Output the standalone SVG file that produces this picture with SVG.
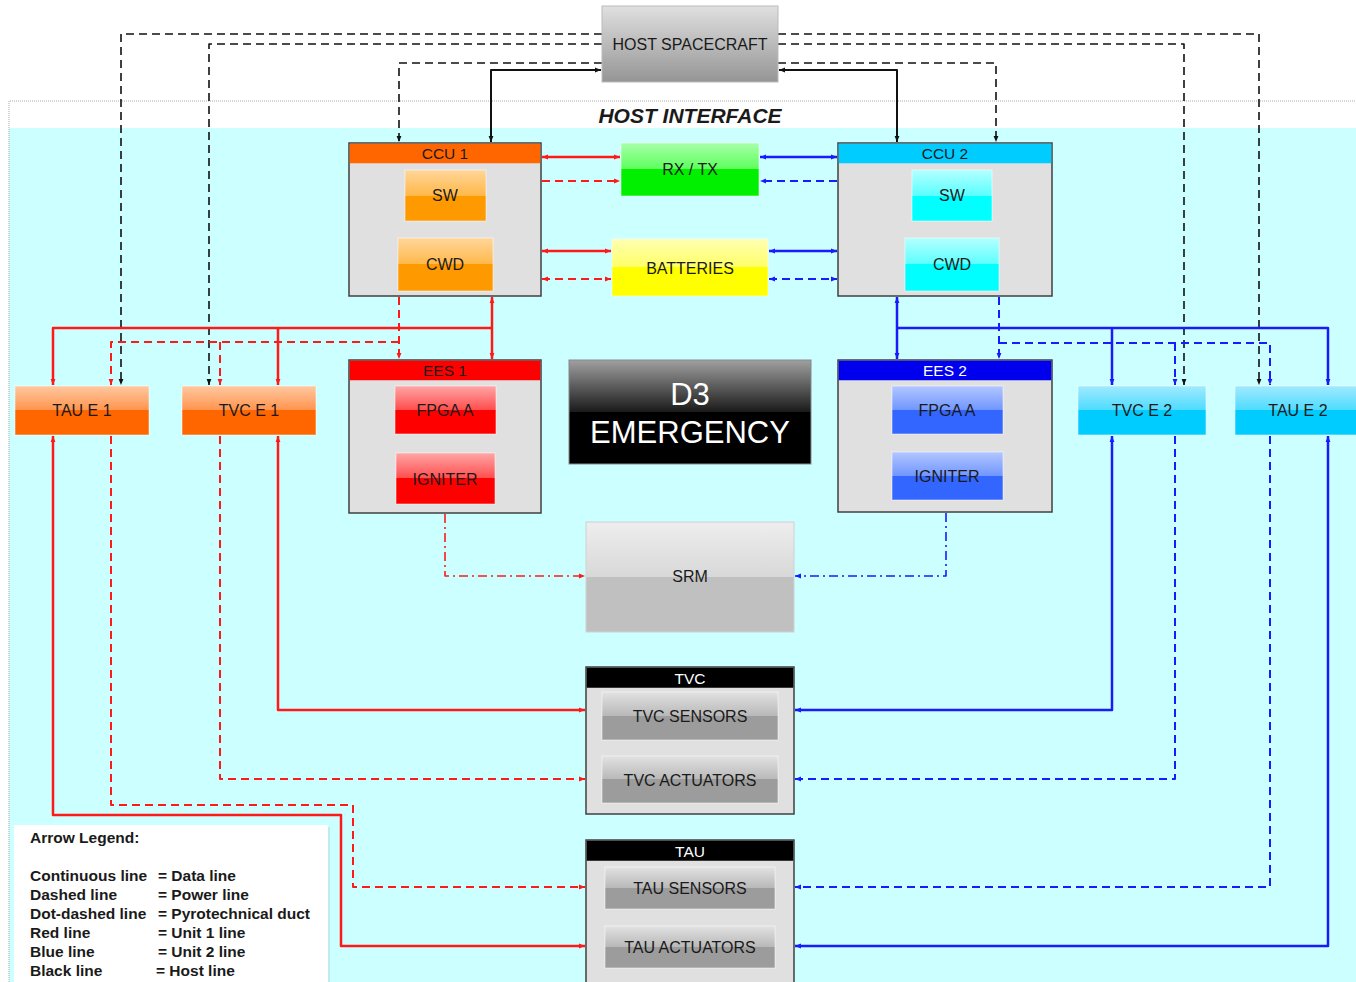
<svg xmlns="http://www.w3.org/2000/svg" width="1356" height="982" viewBox="0 0 1356 982">
<defs>
<linearGradient id="gOr" x1="0" y1="0" x2="0" y2="1"><stop offset="0" stop-color="#FFD69A"/><stop offset="0.5" stop-color="#FFB84A"/><stop offset="0.5" stop-color="#FF9900"/><stop offset="1" stop-color="#FF9900"/></linearGradient>
<linearGradient id="gOrE" x1="0" y1="0" x2="0" y2="1"><stop offset="0" stop-color="#FFC8A0"/><stop offset="0.5" stop-color="#FF934D"/><stop offset="0.5" stop-color="#FF6600"/><stop offset="1" stop-color="#FF6600"/></linearGradient>
<linearGradient id="gCy" x1="0" y1="0" x2="0" y2="1"><stop offset="0" stop-color="#B3FFFF"/><stop offset="0.5" stop-color="#5CFFFF"/><stop offset="0.5" stop-color="#00FFFF"/><stop offset="1" stop-color="#00FFFF"/></linearGradient>
<linearGradient id="gCyE" x1="0" y1="0" x2="0" y2="1"><stop offset="0" stop-color="#A0EAFF"/><stop offset="0.5" stop-color="#4DDBFF"/><stop offset="0.5" stop-color="#00CCFF"/><stop offset="1" stop-color="#00CCFF"/></linearGradient>
<linearGradient id="gGr" x1="0" y1="0" x2="0" y2="1"><stop offset="0" stop-color="#A8FFA8"/><stop offset="0.5" stop-color="#5CFF5C"/><stop offset="0.5" stop-color="#00F000"/><stop offset="1" stop-color="#00F000"/></linearGradient>
<linearGradient id="gYe" x1="0" y1="0" x2="0" y2="1"><stop offset="0" stop-color="#FFFFB3"/><stop offset="0.5" stop-color="#FFFF66"/><stop offset="0.5" stop-color="#FFFF00"/><stop offset="1" stop-color="#FFFF00"/></linearGradient>
<linearGradient id="gRe" x1="0" y1="0" x2="0" y2="1"><stop offset="0" stop-color="#FFA6A6"/><stop offset="0.5" stop-color="#FF4D4D"/><stop offset="0.5" stop-color="#FF0000"/><stop offset="1" stop-color="#FF0000"/></linearGradient>
<linearGradient id="gBl" x1="0" y1="0" x2="0" y2="1"><stop offset="0" stop-color="#B3C6FF"/><stop offset="0.5" stop-color="#7096FF"/><stop offset="0.5" stop-color="#3366FF"/><stop offset="1" stop-color="#3366FF"/></linearGradient>
<linearGradient id="gGy" x1="0" y1="0" x2="0" y2="1"><stop offset="0" stop-color="#E2E2E2"/><stop offset="0.5" stop-color="#B8B8B8"/><stop offset="0.5" stop-color="#9C9C9C"/><stop offset="1" stop-color="#9C9C9C"/></linearGradient>
<linearGradient id="gHost" x1="0" y1="0" x2="0" y2="1"><stop offset="0" stop-color="#E0E0E0"/><stop offset="1" stop-color="#959595"/></linearGradient>
<linearGradient id="gSrm" x1="0" y1="0" x2="0" y2="1"><stop offset="0" stop-color="#EEEEEE"/><stop offset="0.5" stop-color="#D8D8D8"/><stop offset="0.5" stop-color="#C0C0C0"/><stop offset="1" stop-color="#C0C0C0"/></linearGradient>
<linearGradient id="gD3" x1="0" y1="0" x2="0" y2="1"><stop offset="0" stop-color="#A0A0A0"/><stop offset="0.5" stop-color="#1A1A1A"/><stop offset="0.5" stop-color="#000000"/><stop offset="1" stop-color="#000000"/></linearGradient>
<marker id="aR" viewBox="0 0 10 10" refX="10" refY="5" markerWidth="6" markerHeight="6" markerUnits="userSpaceOnUse" orient="auto-start-reverse"><path d="M0,1 L10,5 L0,9 z" fill="#FF1A1A"/></marker>
<marker id="aB" viewBox="0 0 10 10" refX="10" refY="5" markerWidth="6" markerHeight="6" markerUnits="userSpaceOnUse" orient="auto-start-reverse"><path d="M0,1 L10,5 L0,9 z" fill="#1A1AFF"/></marker>
<marker id="aK" viewBox="0 0 10 10" refX="10" refY="5" markerWidth="6" markerHeight="6" markerUnits="userSpaceOnUse" orient="auto-start-reverse"><path d="M0,1 L10,5 L0,9 z" fill="#111"/></marker>
</defs>
<style>
text{font-family:"Liberation Sans",Arial,sans-serif;fill:#1a1a1a;text-anchor:middle}
.t{font-size:16px}
.h{font-size:15.5px}
.frame{fill:#E0E0E0;stroke:#404040;stroke-width:1.5}
.box{stroke:#ffffff;stroke-opacity:0.5;stroke-width:1}
.c{fill:none;stroke-linejoin:round;stroke-linecap:butt}
.r{stroke:#FF1A1A}
.b{stroke:#1A1AFF}
.k{stroke:#111}
.s{stroke-width:2.5}
.d{stroke-width:2;stroke-dasharray:8,5}
.dk{stroke-width:1.6;stroke-dasharray:8,5}
.dd{stroke-width:1.6;stroke-dasharray:9,4,2,4}
.leg{font-size:15.5px;font-weight:bold;text-anchor:start}
</style>
<rect x="0" y="0" width="1356" height="982" fill="#FFFFFF"/>
<g id="host-interface">
<rect x="9" y="128" width="1347" height="854" fill="#CCFFFF"/>
<path d="M9,982 V101 H1356" fill="none" stroke="#AAAAAA" stroke-width="1" stroke-dasharray="1,1"/>
<text x="690" y="123" style="font-size:21px;font-weight:bold;font-style:italic">HOST INTERFACE</text>
</g>
<g id="connectors">
<path class="c k dk" d="M602,34 H121 V385" marker-end="url(#aK)"/>
<path class="c k dk" d="M778,34 H1259 V385" marker-end="url(#aK)"/>
<path class="c k dk" d="M602,44 H209 V385" marker-end="url(#aK)"/>
<path class="c k dk" d="M778,44 H1184 V385" marker-end="url(#aK)"/>
<path class="c k dk" d="M602,63 H399 V142" marker-end="url(#aK)"/>
<path class="c k dk" d="M778,63 H996 V142" marker-end="url(#aK)"/>
<path class="c k s" style="stroke-width:2" d="M491,142 V70 H601" marker-start="url(#aK)" marker-end="url(#aK)"/>
<path class="c k s" style="stroke-width:2" d="M779,70 H897 V142" marker-start="url(#aK)" marker-end="url(#aK)"/>
<path class="c r s" d="M542,157 H620" marker-start="url(#aR)" marker-end="url(#aR)"/>
<path class="c r d" d="M542,181 H620" marker-end="url(#aR)"/>
<path class="c r s" d="M542,251 H611" marker-start="url(#aR)" marker-end="url(#aR)"/>
<path class="c r d" d="M542,279 H611" marker-start="url(#aR)" marker-end="url(#aR)"/>
<path class="c b s" d="M760,157 H837" marker-start="url(#aB)" marker-end="url(#aB)"/>
<path class="c b d" d="M837,181 H760" marker-end="url(#aB)"/>
<path class="c b s" d="M769,251 H837" marker-start="url(#aB)" marker-end="url(#aB)"/>
<path class="c b d" d="M769,279 H837" marker-start="url(#aB)" marker-end="url(#aB)"/>
<path class="c r s" d="M492,297 V359" marker-start="url(#aR)" marker-end="url(#aR)"/>
<path class="c r s" d="M492,328 H53 V385" marker-end="url(#aR)"/>
<path class="c r s" d="M278,328 V385" marker-end="url(#aR)"/>
<path class="c r d" d="M399,297 V359" marker-end="url(#aR)"/>
<path class="c r d" d="M399,342 H111 V385" marker-end="url(#aR)"/>
<path class="c r d" d="M220,342 V385" marker-end="url(#aR)"/>
<path class="c b s" d="M897,297 V359" marker-start="url(#aB)" marker-end="url(#aB)"/>
<path class="c b s" d="M897,328 H1328 V385" marker-end="url(#aB)"/>
<path class="c b s" d="M1112,328 V385" marker-end="url(#aB)"/>
<path class="c b d" d="M999,297 V359" marker-end="url(#aB)"/>
<path class="c b d" d="M999,343 H1270 V385" marker-end="url(#aB)"/>
<path class="c b d" d="M1175,343 V385" marker-end="url(#aB)"/>
<path class="c r s" d="M53,436 V815 H341 V946 H585" marker-start="url(#aR)" marker-end="url(#aR)"/>
<path class="c r d" d="M111,436 V805 H353 V887 H585" marker-end="url(#aR)"/>
<path class="c r s" d="M278,436 V710 H585" marker-start="url(#aR)" marker-end="url(#aR)"/>
<path class="c r d" d="M220,436 V779 H585" marker-end="url(#aR)"/>
<path class="c r dd" d="M445,514 V576 H585" marker-end="url(#aR)"/>
<path class="c b s" d="M1112,436 V710 H795" marker-start="url(#aB)" marker-end="url(#aB)"/>
<path class="c b d" d="M1175,436 V779 H795" marker-end="url(#aB)"/>
<path class="c b d" d="M1270,436 V887 H795" marker-end="url(#aB)"/>
<path class="c b s" d="M1328,436 V946 H795" marker-start="url(#aB)" marker-end="url(#aB)"/>
<path class="c b dd" d="M946,513 V576 H795" marker-end="url(#aB)"/>
</g>
<g id="host-spacecraft">
<rect x="602" y="6" width="176" height="76" fill="url(#gHost)" stroke="#BBBBBB" stroke-width="1"/>
<text class="t" x="690" y="50">HOST SPACECRAFT</text>
</g>
<g id="ccu1">
<rect class="frame" x="349" y="143" width="192" height="153"/>
<rect x="349.75" y="143.75" width="190.5" height="19.5" fill="#FF6600"/>
<text class="h" x="445" y="159">CCU 1</text>
<rect class="box" x="405" y="170" width="81" height="51" fill="url(#gOr)"/>
<text class="t" x="445" y="201">SW</text>
<rect class="box" x="398" y="238" width="95" height="53" fill="url(#gOr)"/>
<text class="t" x="445" y="270">CWD</text>
</g>
<g id="rxtx">
<rect class="box" x="621" y="143" width="138" height="53" fill="url(#gGr)"/>
<text class="t" x="690" y="175">RX / TX</text>
</g>
<g id="batteries">
<rect class="box" x="612" y="239" width="156" height="57" fill="url(#gYe)"/>
<text class="t" x="690" y="274">BATTERIES</text>
</g>
<g id="ccu2">
<rect class="frame" x="838" y="143" width="214" height="153"/>
<rect x="838.75" y="143.75" width="212.5" height="19.5" fill="#00CCFF"/>
<text class="h" x="945" y="159">CCU 2</text>
<rect class="box" x="912" y="170" width="80" height="51" fill="url(#gCy)"/>
<text class="t" x="952" y="201">SW</text>
<rect class="box" x="905" y="238" width="94" height="53" fill="url(#gCy)"/>
<text class="t" x="952" y="270">CWD</text>
</g>
<g id="ees1">
<rect class="frame" x="349" y="360" width="192" height="153"/>
<rect x="349.75" y="360.75" width="190.5" height="19.5" fill="#FF0000"/>
<text class="h" x="445" y="376">EES 1</text>
<rect class="box" x="395" y="386" width="101" height="48" fill="url(#gRe)"/>
<text class="t" x="445" y="416">FPGA A</text>
<rect class="box" x="396" y="453" width="99" height="51" fill="url(#gRe)"/>
<text class="t" x="445" y="485">IGNITER</text>
</g>
<g id="ees2">
<rect class="frame" x="838" y="360" width="214" height="152"/>
<rect x="838.75" y="360.75" width="212.5" height="19.5" fill="#0000EE"/>
<text class="h" x="945" y="376" style="fill:#FFFFFF">EES 2</text>
<rect class="box" x="892" y="386" width="111" height="48" fill="url(#gBl)"/>
<text class="t" x="947" y="416">FPGA A</text>
<rect class="box" x="892" y="452" width="111" height="48" fill="url(#gBl)"/>
<text class="t" x="947" y="482">IGNITER</text>
</g>
<g id="d3-emergency">
<rect x="569" y="360" width="242" height="104" fill="url(#gD3)" stroke="#888888" stroke-width="1"/>
<text x="690" y="405" style="font-size:31px;fill:#FFFFFF">D3</text>
<text x="690" y="443" style="font-size:31px;fill:#FFFFFF">EMERGENCY</text>
</g>
<g id="srm">
<rect x="586" y="522" width="208" height="110" fill="url(#gSrm)" stroke="#D0D0D0" stroke-width="1"/>
<text class="t" x="690" y="582">SRM</text>
</g>
<g id="tvc">
<rect class="frame" x="586" y="667" width="208" height="147"/>
<rect x="586.75" y="667.75" width="206.5" height="20" fill="#000000"/>
<text class="h" x="690" y="684" style="fill:#FFFFFF">TVC</text>
<rect class="box" x="602" y="692" width="176" height="48" fill="url(#gGy)"/>
<text class="t" x="690" y="722">TVC SENSORS</text>
<rect class="box" x="602" y="756" width="176" height="47" fill="url(#gGy)"/>
<text class="t" x="690" y="786">TVC ACTUATORS</text>
</g>
<g id="tau">
<rect class="frame" x="586" y="840" width="208" height="150"/>
<rect x="586.75" y="840.75" width="206.5" height="20" fill="#000000"/>
<text class="h" x="690" y="857" style="fill:#FFFFFF">TAU</text>
<rect class="box" x="605" y="867" width="170" height="42" fill="url(#gGy)"/>
<text class="t" x="690" y="894">TAU SENSORS</text>
<rect class="box" x="605" y="926" width="170" height="42" fill="url(#gGy)"/>
<text class="t" x="690" y="953">TAU ACTUATORS</text>
</g>
<g id="tau-e1">
<rect class="box" x="15" y="386" width="134" height="49" fill="url(#gOrE)"/>
<text class="t" x="82" y="416">TAU E 1</text>
</g>
<g id="tvc-e1">
<rect class="box" x="182" y="386" width="134" height="49" fill="url(#gOrE)"/>
<text class="t" x="249" y="416">TVC E 1</text>
</g>
<g id="tvc-e2">
<rect class="box" x="1078" y="386" width="128" height="49" fill="url(#gCyE)"/>
<text class="t" x="1142" y="416">TVC E 2</text>
</g>
<g id="tau-e2">
<rect class="box" x="1235" y="386" width="125" height="49" fill="url(#gCyE)"/>
<text class="t" x="1298" y="416">TAU E 2</text>
</g>
<g id="legend">
<rect x="16" y="827" width="314" height="160" fill="#B0D8D8" opacity="0.5"/>
<rect x="14" y="825" width="314" height="160" fill="#FFFFFF"/>
<text class="leg" x="30" y="843">Arrow Legend:</text>
<text class="leg" x="30" y="881">Continuous line</text><text class="leg" x="158" y="881">= Data line</text>
<text class="leg" x="30" y="900">Dashed line</text><text class="leg" x="158" y="900">= Power line</text>
<text class="leg" x="30" y="919">Dot-dashed line</text><text class="leg" x="158" y="919">= Pyrotechnical duct</text>
<text class="leg" x="30" y="938">Red line</text><text class="leg" x="158" y="938">= Unit 1 line</text>
<text class="leg" x="30" y="957">Blue line</text><text class="leg" x="158" y="957">= Unit 2 line</text>
<text class="leg" x="30" y="976">Black line</text><text class="leg" x="156" y="976">= Host line</text>
</g>
</svg>
